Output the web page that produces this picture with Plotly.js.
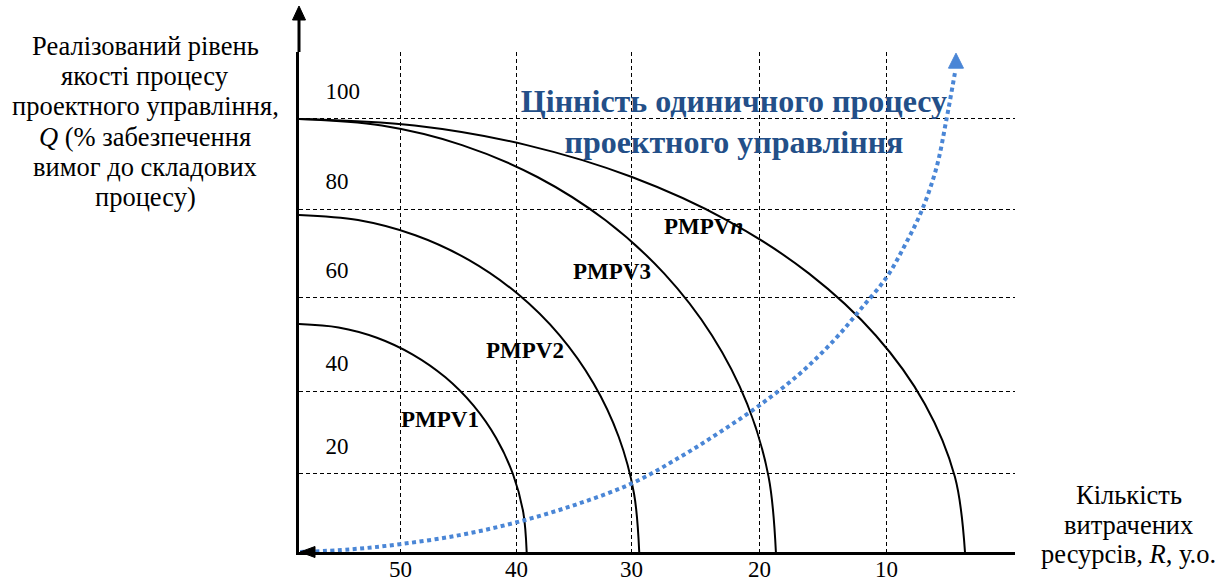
<!DOCTYPE html>
<html>
<head>
<meta charset="utf-8">
<script src="https://cdn.plot.ly/plotly-3.0.1.min.js"></script>
<style>html,body{margin:0;padding:0;background:#fff;}#chart{width:1227px;height:581px;}</style>
</head>
<body>
<div id="chart"></div>
<script>
// ---- data ----
const xTickVals = [50, 40.43, 30.96, 20.49, 10];
const xTickText = ['50', '40', '30', '20', '10'];
const yTickVals = [18.08, 37.18, 58.73, 79.15, 100];
const yTickText = ['20', '40', '60', '80', '100'];

const pmpv1R = [58.3, 55.05, 51.9, 48.95, 46.27, 43.97, 42.1, 40.72, 39.87, 39.59];
const pmpv1Q = [52.66, 51.86, 49.49, 45.6, 40.34, 33.85, 26.33, 18.01, 9.14, 0];

const pmpv2R = [58.3, 53.45, 48.74, 44.32, 40.33, 36.88, 34.09, 32.03, 30.77, 30.34];
const pmpv2Q = [77.83, 76.65, 73.14, 67.4, 59.62, 50.03, 38.92, 26.62, 13.51, 0];

const pmpv3R = [58.3, 51.5, 44.9, 38.71, 33.11, 28.28, 24.36, 21.47, 19.71, 19.11];
const pmpv3Q = [100, 98.48, 93.97, 86.6, 76.6, 64.28, 50, 34.2, 17.36, 0];

const pmpvnR = [58.3, 48.8, 39.58, 30.94, 23.12, 16.38, 10.9, 6.87, 4.4, 3.57];
const pmpvnQ = [100, 98.48, 93.97, 86.6, 76.6, 64.28, 50, 34.2, 17.36, 0];

const valueR = [58.2, 54.1, 50.0, 45.1, 40.5, 35.6, 30.9, 27.0, 23.7, 20.4, 17.1, 14.3, 12.2, 10.0, 8.5, 7.1, 5.9, 5.1, 4.4];
const valueQ = [0, 0.6, 1.8, 3.9, 6.8, 10.9, 15.9, 21.9, 27.7, 34.0, 41.3, 49.0, 55.9, 63.5, 70.9, 79.0, 88.9, 99.8, 110.6];

const curveNames = ['PMPV1', 'PMPV2', 'PMPV3', 'PMPV<i>n</i>'];
const arrowTip = [4.31, 115.2];

const yTitleLines = ['Реалізований рівень', 'якості процесу', 'проектного управління,',
                     '<i>Q</i> (% забезпечення', 'вимог до складових', 'процесу)'];
const xTitleLines = ['Кількість', 'витрачених', 'ресурсів, <i>R</i>, у.о.'];
const chartTitle = 'Цінність одиничного процесу<br>проектного управління';
// --------------------------------------

const SERIF = "'Liberation Serif', 'Times New Roman', Tinos, serif";
const BLUE = '#4a86d6';
const TITLE_BLUE = '#234f88';
const TITLE_FS = 26.5;

function curve(x, y) {
  return {x: x, y: y, type: 'scatter', mode: 'lines', hoverinfo: 'skip',
    line: {color: '#000', width: 2, shape: 'spline', smoothing: 1}, showlegend: false};
}

const traces = [
  curve(pmpv1R, pmpv1Q),
  curve(pmpv2R, pmpv2Q),
  curve(pmpv3R, pmpv3Q),
  curve(pmpvnR, pmpvnQ),
  {x: valueR, y: valueQ, type: 'scatter', mode: 'lines', hoverinfo: 'skip', showlegend: false,
   line: {color: BLUE, width: 4, dash: '4px,3.5px', shape: 'spline', smoothing: 1}}
];

const labelPos = [[46.75, 30.5], [39.69, 46.6], [32.6, 64.7], [25.1, 75.1]];
const annotations = curveNames.map((n, i) => ({
  x: labelPos[i][0], y: labelPos[i][1], xref: 'x', yref: 'y', text: '<b>' + n + '</b>',
  showarrow: false, font: {family: SERIF, size: 23, color: '#000'}, xanchor: 'center', yanchor: 'middle'
}));

// x tick labels (drawn under the axis line)
xTickVals.forEach((v, i) => annotations.push({
  x: v, y: 0, xref: 'x', yref: 'paper', text: xTickText[i], showarrow: false,
  xanchor: 'center', yanchor: 'top', yshift: -3,
  font: {family: SERIF, size: 23, color: '#000'}
}));

// axis titles, one annotation per line (plot area: 500 px high, 716 px wide)
yTitleLines.forEach((t, i) => annotations.push({
  xref: 'paper', yref: 'paper', x: -0.215, y: (552 - (46 + 30.2 * i)) / 500,
  xanchor: 'center', yanchor: 'middle', showarrow: false, text: t,
  font: {family: SERIF, size: TITLE_FS, color: '#000'}
}));
xTitleLines.forEach((t, i) => annotations.push({
  xref: 'paper', yref: 'paper', x: 1.159, y: (552 - (495 + 29.5 * i)) / 500,
  xanchor: 'center', yanchor: 'middle', showarrow: false, text: t,
  font: {family: SERIF, size: TITLE_FS, color: '#000'}
}));

const shapes = [
  {type: 'line', xref: 'paper', yref: 'paper', x0: 0, x1: 0, y0: 1, y1: 1.066, line: {color: '#000', width: 3}},
  {type: 'path', xref: 'paper', yref: 'paper', xsizemode: 'pixel', ysizemode: 'pixel', xanchor: 0, yanchor: 1.092,
   path: 'M 0 0 L -6.5 -14 L 6.5 -14 Z', fillcolor: '#000', line: {color: '#000', width: 1}},
  {type: 'path', xref: 'paper', yref: 'paper', xsizemode: 'pixel', ysizemode: 'pixel', xanchor: 0, yanchor: 0,
   path: 'M 1 0 L 16 5.5 L 16 -5.5 Z', fillcolor: '#000', line: {color: '#000', width: 1}},
  {type: 'path', xref: 'x', yref: 'y', xsizemode: 'pixel', ysizemode: 'pixel', xanchor: arrowTip[0], yanchor: arrowTip[1],
   path: 'M 0 0 L -7.5 -15 L 7.5 -15 Z', fillcolor: BLUE, line: {color: BLUE, width: 1}}
];

const layout = {
  width: 1227, height: 581,
  margin: {l: 299, r: 212, t: 52, b: 29, pad: 0},
  paper_bgcolor: '#fff', plot_bgcolor: '#fff',
  font: {family: SERIF, size: 23, color: '#000'},
  title: {
    text: '<b>' + chartTitle + '</b>',
    font: {family: SERIF, size: 32, color: TITLE_BLUE},
    xref: 'paper', x: 0.6075, xanchor: 'center',
    yref: 'container', y: 0.808, yanchor: 'top'
  },
  xaxis: {
    range: [58.3, -0.54], autorange: false,
    tickvals: xTickVals, ticktext: xTickText, ticks: '', showticklabels: false,
    showgrid: true, gridcolor: '#000', griddash: '4px,3px', gridwidth: 1,
    showline: true, linecolor: '#000', linewidth: 3, zeroline: false
  },
  yaxis: {
    range: [0, 115.47], autorange: false,
    tickvals: yTickVals, ticktext: yTickText, ticks: '',
    ticklabelposition: 'inside', ticklabelshift: -28, ticklabelstandoff: 28,
    showgrid: true, gridcolor: '#000', griddash: '4px,3px', gridwidth: 1,
    showline: true, linecolor: '#000', linewidth: 3, zeroline: false,
    tickfont: {family: SERIF, size: 23, color: '#000'}
  },
  annotations: annotations,
  shapes: shapes
};

Plotly.newPlot('chart', traces, layout, {staticPlot: true, displayModeBar: false});
</script>
</body>
</html>
